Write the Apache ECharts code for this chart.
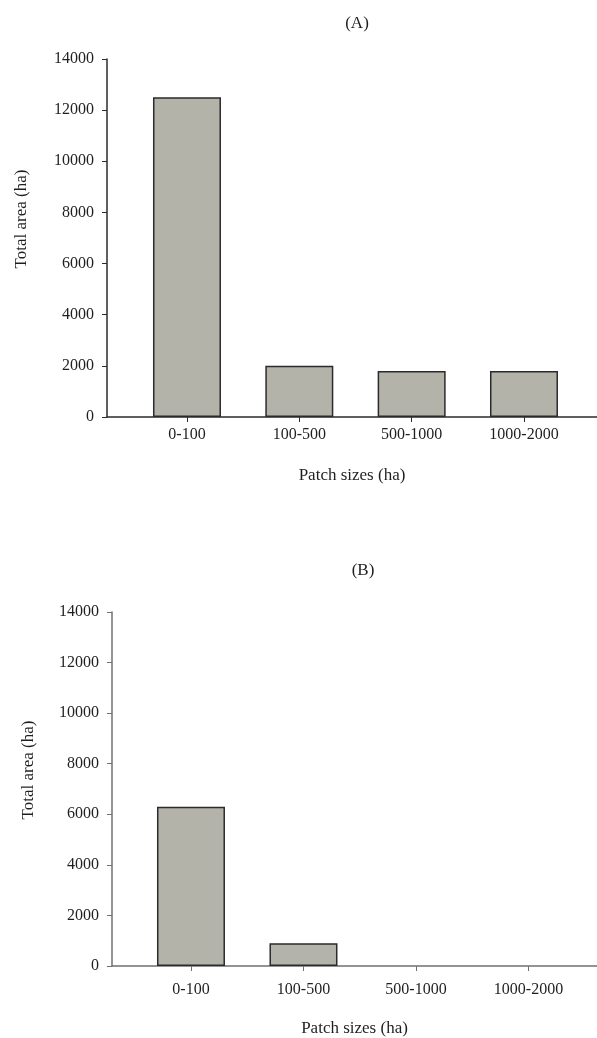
<!DOCTYPE html>
<html>
<head>
<meta charset="utf-8">
<title>Total area by patch size</title>
<script src="https://cdn.jsdelivr.net/npm/echarts@6/dist/echarts.min.js"></script>
<style>
  html, body { margin: 0; padding: 0; background: #ffffff; }
  #chart { width: 597px; height: 1038px; }
</style>
</head>
<body>
<div id="chart"></div>
<script>
// Patch size classes (ha) and total area (ha) per class
const patchSizes = ['0-100', '100-500', '500-1000', '1000-2000'];
const areaA = [12500, 2000, 1800, 1800];
const areaB = [6300, 900, 0, 0];
const yTicks = [0, 2000, 4000, 6000, 8000, 10000, 12000, 14000];

const FONT = '"Liberation Serif", "DejaVu Serif", serif';
const TEXT = '#1f1f1f';
const classIdx = patchSizes.map((_, i) => i);

// empty classes get no bar at all
function toPoints(values) {
  return values.map((v, i) => (v > 0 ? [i, v] : null)).filter(Boolean);
}

function xAxisFor(gridIndex, min, max, lineColor) {
  return {
    gridIndex: gridIndex,
    type: 'value',
    min: min,
    max: max,
    name: 'Patch sizes (ha)',
    nameLocation: 'middle',
    nameGap: gridIndex === 0 ? 50 : 54,
    nameTextStyle: { fontFamily: FONT, fontSize: 17, color: TEXT },
    axisLine: { show: true, onZero: false, lineStyle: { color: lineColor, width: 1.5 } },
    axisTick: { show: true, length: 5, customValues: classIdx, lineStyle: { color: lineColor, width: 1 } },
    axisLabel: {
      customValues: classIdx,
      margin: gridIndex === 0 ? 10 : 16,
      fontFamily: FONT, fontSize: 16, color: TEXT,
      formatter: v => patchSizes[Math.round(v)] || ''
    },
    splitLine: { show: false }
  };
}

function yAxisFor(gridIndex, lineColor) {
  return {
    gridIndex: gridIndex,
    type: 'value',
    min: yTicks[0],
    max: yTicks[yTicks.length - 1],
    interval: yTicks[1] - yTicks[0],
    name: 'Total area (ha)',
    nameLocation: 'middle',
    nameRotate: 90,
    nameGap: gridIndex === 0 ? 77 : 75,
    nameTextStyle: { fontFamily: FONT, fontSize: 17, color: TEXT, padding: [0, 0, 0, 38] },
    axisLine: { show: true, onZero: false, lineStyle: { color: lineColor, width: 1.5 } },
    axisTick: { show: true, length: 5, lineStyle: { color: lineColor, width: 1 } },
    axisLabel: {
      margin: 13, fontFamily: FONT, fontSize: 16, color: TEXT,
      formatter: v => String(v)
    },
    splitLine: { show: false }
  };
}

function barSeries(index, values) {
  return {
    type: 'bar',
    xAxisIndex: index,
    yAxisIndex: index,
    data: toPoints(values),
    barWidth: 68,
    itemStyle: { color: '#b3b3aa', borderColor: '#2b2b2b', borderWidth: 1.5 },
    emphasis: { disabled: true },
    animation: false
  };
}

const chart = echarts.init(document.getElementById('chart'), null, { renderer: 'canvas' });
chart.setOption({
  backgroundColor: '#ffffff',
  animation: false,
  title: [
    { text: '(A)', left: 352, top: 10, textAlign: 'center',
      textStyle: { fontFamily: FONT, fontSize: 17, fontWeight: 'normal', color: TEXT } },
    { text: '(B)', left: 358, top: 557, textAlign: 'center',
      textStyle: { fontFamily: FONT, fontSize: 17, fontWeight: 'normal', color: TEXT } }
  ],
  grid: [
    { left: 107, right: 0, top: 59, height: 358 },
    { left: 112, right: 0, top: 612, height: 357 }
  ],
  xAxis: [
    xAxisFor(0, -0.712, 3.65, '#2b2b2b'),
    xAxisFor(1, -0.702, 3.609, '#707070')
  ],
  yAxis: [
    yAxisFor(0, '#2b2b2b'),
    yAxisFor(1, '#707070')
  ],
  series: [
    barSeries(0, areaA),
    barSeries(1, areaB)
  ]
});
</script>
</body>
</html>
